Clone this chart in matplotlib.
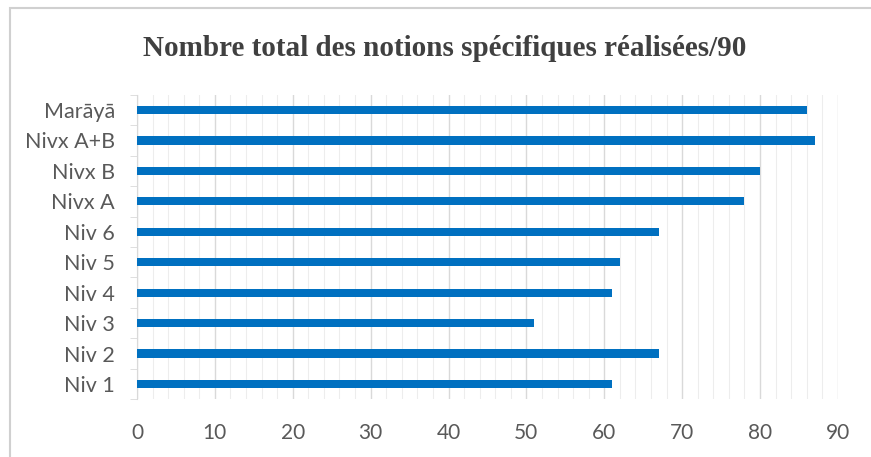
import matplotlib.pyplot as plt
from matplotlib.patches import Rectangle
import numpy as np

categories = ['Niv 1', 'Niv 2', 'Niv 3', 'Niv 4', 'Niv 5', 'Niv 6',
              'Nivx A', 'Nivx B', 'Nivx A+B', 'Marāyā']
values = [61, 67, 51, 61, 62, 67, 78, 80, 87, 86]
xticks = [0, 10, 20, 30, 40, 50, 60, 70, 80, 90]

fig = plt.figure(figsize=(8.71, 4.57), dpi=100)
ax = fig.add_axes([0.1573, 0.1265, 0.962 - 0.1573, 0.7926 - 0.1265])

y = np.arange(len(categories))
ax.barh(y, values, height=0.27, color='#0070C0', zorder=3)

ax.set_xlim(0, 90)
ax.set_ylim(-0.5, len(categories) - 0.5)

# grid: minor every 2, major every 10
ax.set_xticks(xticks)
ax.set_xticks(np.arange(0, 91, 2), minor=True)
ax.grid(axis='x', which='minor', color='#EDEDED', lw=0.8, zorder=0)
ax.grid(axis='x', which='major', color='#D9D9D9', lw=1.0, zorder=1)
ax.tick_params(axis='x', which='both', length=0, pad=17, labelsize=15, labelcolor='#595959')

ax.set_yticks(y)
ax.set_yticklabels(categories)
ax.set_yticks(np.arange(-0.5, len(categories), 1), minor=True)
ax.tick_params(axis='y', which='major', length=0, pad=16, labelsize=15.5, labelcolor='#595959')
ax.tick_params(axis='y', which='minor', length=5, color='#D9D9D9')
for lab in ax.get_xticklabels() + ax.get_yticklabels():
    lab.set_family('Lato')

for s in ['top', 'right', 'bottom']:
    ax.spines[s].set_visible(False)
ax.spines['left'].set_color('#D9D9D9')

fig.text(0.511, 0.893, 'Nombre total des notions spécifiques réalisées/90',
         ha='center', va='center', family='Liberation Serif', weight='bold',
         fontsize=21, color='#404040')

# outer chart frame
fig.patches.append(Rectangle((0.011, -0.1), 1.2, 1.083, transform=fig.transFigure,
                             fill=False, ec='#D0D0D0', lw=1.5))

fig.savefig('out.png', dpi=100)
